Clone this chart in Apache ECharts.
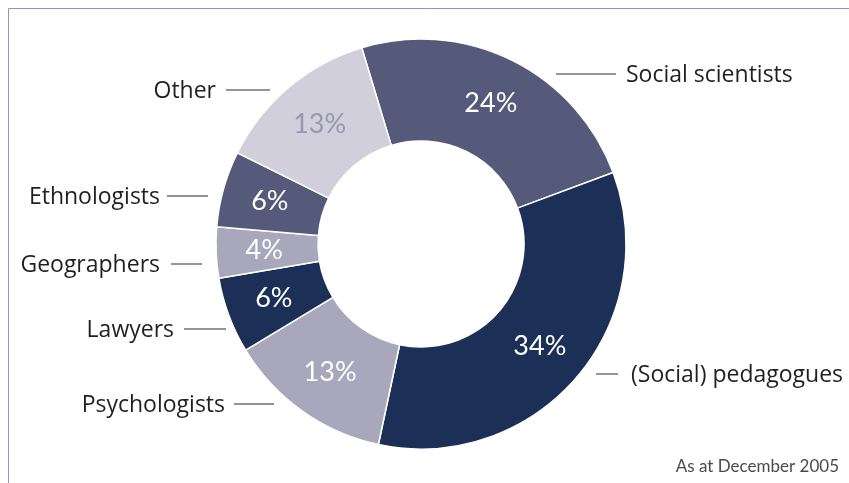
<!DOCTYPE html>
<html><head><meta charset="utf-8">
<script src="https://cdn.jsdelivr.net/npm/echarts@6/dist/echarts.min.js"></script>
<style>html,body{margin:0;padding:0;background:#fff}#c{width:849px;height:483px}</style>
</head><body><div id="c"></div>
<script>
const categories = ['Social scientists','(Social) pedagogues','Psychologists','Lawyers','Geographers','Ethnologists','Other'];
const shares = [24,34,13,6,4,6,13];
const sliceColors = ['#555a7b','#1b2f57','#a8a7bc','#1b2f57','#a8a7bc','#555a7b','#d0cfdb'];
const pctColors = ['#ffffff','#ffffff','#ffffff','#ffffff','#ffffff','#ffffff','#9897b2'];
const noteText = 'As at December 2005';
// outer label layout: [lineStartX, lineEndX, textX, lineY]
const labelSpots = [
  [556,616,626,74],
  [596,618,631,374],
  [274,234,225,404],
  [226,184,174,329],
  [202,171,160,264],
  [208,167,160,196],
  [270,226,216,90]
];

const chart = echarts.init(document.getElementById('c'), null, {renderer:'canvas'});
const dataInner = categories.map((n,i)=>({name:n, value:shares[i], itemStyle:{color:sliceColors[i]}, label:{color:pctColors[i]}}));
const dataOuter = categories.map((n,i)=>({name:n, value:shares[i]}));
const common = {type:'pie', center:[421,244], radius:[103,205], startAngle:106.8, clockwise:true, avoidLabelOverlap:false, animation:false};
chart.setOption({
  animation:false,
  graphic:[
    {type:'line', shape:{x1:8.5,y1:8.5,x2:849,y2:8.5}, style:{stroke:'#8c94d0', lineWidth:1}},
    {type:'line', shape:{x1:8.5,y1:8.5,x2:8.5,y2:483}, style:{stroke:'#8c94d0', lineWidth:1}},
    {type:'text', x:839, y:467, style:{text:noteText, align:'right', verticalAlign:'middle', fontFamily:'Lato', fontSize:17, fill:'#4a4a4a'}}
  ],
  series:[
    Object.assign({}, common, {
      data:dataInner,
      itemStyle:{borderColor:'#ffffff', borderWidth:1.5},
      label:{show:true, position:'inside', formatter:'{c}%', fontFamily:'Lato', fontWeight:'normal', fontSize:27},
      labelLine:{show:false},
      emphasis:{disabled:true}
    }),
    Object.assign({}, common, {
      data:dataOuter,
      silent:true,
      itemStyle:{color:'rgba(0,0,0,0)', borderWidth:0},
      label:{show:true, position:'outside', formatter:'{b}', fontFamily:'Open Sans', fontSize:23, color:'#231f20'},
      labelLine:{show:true, lineStyle:{color:'#707070', width:1.5}},
      emphasis:{disabled:true},
      labelLayout:function(p){
        const s = labelSpots[p.dataIndex];
        return {x:s[2], y:s[3]+1, align: s[1]>s[0] ? 'left' : 'right', verticalAlign:'middle',
                labelLinePoints:[[s[0],s[3]],[s[1],s[3]]]};
      }
    })
  ]
});
</script></body></html>
